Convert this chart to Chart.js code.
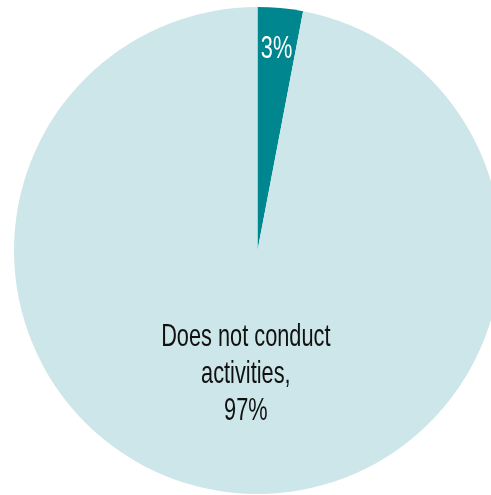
<!DOCTYPE html>
<html>
<head>
<meta charset="utf-8">
<script src="https://cdn.jsdelivr.net/npm/chart.js@4"></script>
<style>
  html, body { margin: 0; padding: 0; background: #fff; overflow: hidden; }
  #wrap { width: 515px; height: 495px; }
</style>
</head>
<body>
<div id="wrap"><canvas id="myChart"></canvas></div>
<script>
const categories = ["Conducts activities", "Does not conduct activities"];
const shares = [3, 97];
// text drawn inside each slice, one entry per line
const sliceText = [["3%"], ["Does not conduct", "activities,", "97%"]];
const sliceColors = ["#00868f", "#cde6e9"];
const textColors = ["#ffffff", "#111111"];
const textDepth = [0.83, 0.51];

// narrow slice labels (squeezed horizontally to look like a condensed face)
const sliceLabels = {
  id: "sliceLabels",
  afterDatasetsDraw(chart) {
    const ctx = chart.ctx;
    const arcs = chart.getDatasetMeta(0).data;
    arcs.forEach((arc, i) => {
      const mid = (arc.startAngle + arc.endAngle) / 2;
      const r = arc.outerRadius * textDepth[i];
      const cx = arc.x + Math.cos(mid) * r;
      const cy = arc.y + Math.sin(mid) * r;
      const lines = sliceText[i];
      const lh = 37;
      ctx.save();
      ctx.font = "32px 'Liberation Sans', Arial, sans-serif";
      ctx.fillStyle = textColors[i];
      ctx.textAlign = "center";
      ctx.textBaseline = "middle";
      lines.forEach((t, j) => {
        const y = cy + (j - (lines.length - 1) / 2) * lh;
        ctx.save();
        ctx.translate(cx, y);
        ctx.scale(0.68, 1);
        ctx.fillText(t, 0, 0);
        ctx.restore();
      });
      ctx.restore();
    });
  }
};

new Chart(document.getElementById("myChart"), {
  type: "pie",
  data: {
    labels: categories,
    datasets: [{
      data: shares,
      backgroundColor: sliceColors,
      borderWidth: 0
    }]
  },
  options: {
    responsive: true,
    maintainAspectRatio: false,
    animation: false,
    layout: { padding: { top: 7, bottom: 1, left: 14, right: 14 } },
    plugins: {
      legend: { display: false },
      tooltip: { enabled: false }
    }
  },
  plugins: [sliceLabels]
});
</script>
</body>
</html>
